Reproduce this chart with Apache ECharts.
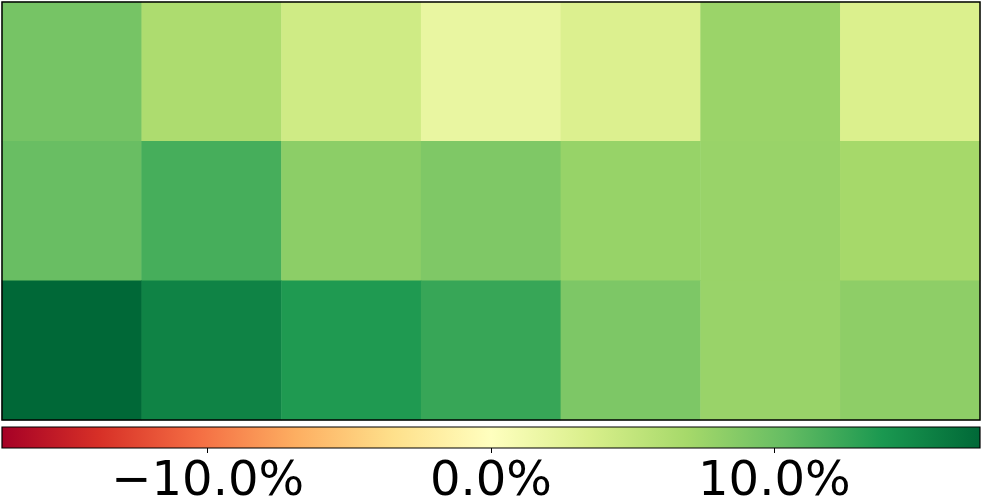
<!DOCTYPE html>
<html><head><meta charset="utf-8">
<script src="https://cdn.jsdelivr.net/npm/echarts@6/dist/echarts.min.js"></script>
<style>html,body{margin:0;padding:0;background:#fff}#c{width:982px;height:500px}</style>
</head><body><div id="c"></div>
<script>
const columns = ['C1','C2','C3','C4','C5','C6','C7'];
const rows = ['R1','R2','R3'];
const row1 = [9.5, 6.4, 4.1, 2.0, 3.2, 7.5, 3.3];
const row2 = [10.2, 11.8, 8.3, 9.0, 7.7, 7.6, 6.9];
const row3 = [17.26, 15.3, 13.6, 12.5, 9.1, 7.6, 8.2];
const colorMin = -17.26, colorMax = 17.26;
const tickValues = [-10, 0, 10];
const palette = ['#a50026','#d73027','#f46d43','#fdae61','#fee08b','#ffffbf','#d9ef8b','#a6d96a','#66bd63','#1a9850','#006837'];

const data = [];
[row1,row2,row3].forEach((r,ri)=>r.forEach((v,ci)=>data.push([ci,ri,v])));

const chart = echarts.init(document.getElementById('c'));
chart.setOption({
  animation:false,
  grid:[
    {left:2,top:2,width:978,height:418,outerBoundsMode:'none',containLabel:false,show:true,borderColor:'#000',borderWidth:1.5,backgroundColor:'transparent',z:5},
    {left:2,top:427,width:978,height:21,outerBoundsMode:'none',containLabel:false,show:true,borderColor:'#000',borderWidth:1.2,
     backgroundColor:new echarts.graphic.LinearGradient(0,0,1,0,palette.map((c,i)=>({offset:i/(palette.length-1),color:c})))}
  ],
  xAxis:[
    {type:'category',data:columns,gridIndex:0,show:false},
    {type:'value',gridIndex:1,min:colorMin,max:colorMax,position:'bottom',
     axisLine:{show:false},splitLine:{show:false},
     axisTick:{show:true,length:5,lineStyle:{color:'#000',width:1},customValues:tickValues},
     axisLabel:{show:true,customValues:tickValues,margin:11,fontFamily:'DejaVu Sans',fontSize:48,color:'#000',
       formatter:v=>(v<0?'\u2212':'')+Math.abs(v).toFixed(1)+'%'}}
  ],
  yAxis:[
    {type:'category',data:rows,gridIndex:0,inverse:true,show:false},
    {type:'value',gridIndex:1,show:false,min:0,max:1}
  ],
  visualMap:{show:false,seriesIndex:0,min:colorMin,max:colorMax,inRange:{color:palette}},
  series:[{type:'heatmap',xAxisIndex:0,yAxisIndex:0,data:data,itemStyle:{borderWidth:0},emphasis:{disabled:true}}]
});
</script></body></html>
